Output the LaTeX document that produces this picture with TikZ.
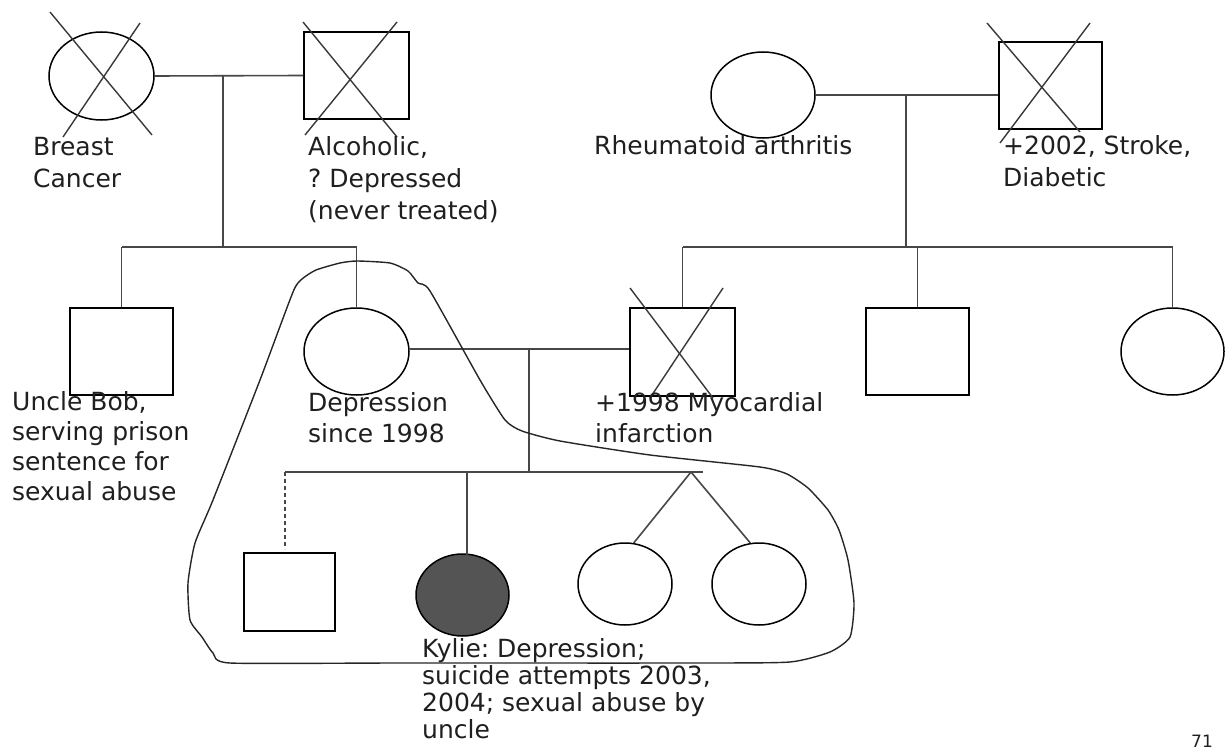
\documentclass[tikz,border=0pt]{standalone}
\usepackage{fontspec}
\setmainfont{DejaVu Sans}
\usetikzlibrary{shapes.geometric}
\frenchspacing
\begin{document}
\begin{tikzpicture}[x=1pt,y=-1pt,
  female/.style={ellipse,draw=black,line width=1.5pt,inner sep=0pt,minimum width=#1},
  male/.style={rectangle,draw=black,line width=1.5pt,inner sep=0pt},
  link/.style={draw=black!72,line width=1.6pt},
  crossout/.style={draw=black!78,line width=1.4pt},
  label/.style={anchor=base west,inner sep=0pt,align=left,text=black!88,
    font=\fontsize{25}{32}\selectfont},
  household/.style={draw=black!85,line width=1.4pt}]
\useasboundingbox (0,0) rectangle (1225,749);

% ---- paternal grandparents
\node[female=105pt,minimum height=88pt] (gmL) at (101.5,76) {};
\node[male,minimum width=105pt,minimum height=87pt] (gfL) at (356.5,75.5) {};
\draw[crossout] (50,12) -- (152,135);
\draw[crossout] (140,23) -- (63,137);
\draw[crossout] (303,22) -- (397,137);
\draw[crossout] (397,22) -- (305,135);
\coordinate (mL) at (223,76);
\coordinate (sL) at (223,247);
\draw[link] (gmL.east) -- (gfL.west);
\draw[link] (mL) -- (sL);

% ---- maternal grandparents
\node[female=104pt,minimum height=86pt] (gmR) at (763,95) {};
\node[male,minimum width=103pt,minimum height=87pt] (gfR) at (1050.5,85.5) {};
\draw[crossout] (987,23) -- (1080,132);
\draw[crossout] (1090,23) -- (1000,143);
\coordinate (mR) at (906,94);
\coordinate (sR) at (906,247);
\draw[link] (gmR.east) -- (gfR.west |- gmR.east);
\draw[link] (mR) -- (sR);

% ---- parents' generation
\node[male,minimum width=103pt,minimum height=87pt] (bob) at (121.5,351.5) {};
\node[female=105pt,minimum height=87pt] (mum) at (356.5,351.5) {};
\node[male,minimum width=105pt,minimum height=88pt] (dad) at (682.5,352) {};
\node[male,minimum width=103pt,minimum height=87pt] (unc) at (917.5,351.5) {};
\node[female=103pt,minimum height=87pt] (aunt) at (1172.5,351.5) {};
\draw[crossout] (630,288) -- (713,398);
\draw[crossout] (723,288) -- (650,398);

\draw[link] (bob.north |- sL) -- (mum.north |- sL);
\draw[link] (bob.north |- sL) -- (bob.north);
\draw[link] (mum.north |- sL) -- (mum.north);
\draw[link] (dad.north |- sR) -- (aunt.north |- sR);
\draw[link] (dad.north |- sR) -- (dad.north);
\draw[link] (unc.north |- sR) -- (unc.north);
\draw[link] (aunt.north |- sR) -- (aunt.north);

% ---- children
\coordinate (mP) at (529,349);
\coordinate (sP) at (529,472);
\coordinate (twin) at (691,472);
\coordinate (sEnd) at (703,472);
\draw[link] (mum.east |- mP) -- (dad.west |- mP);
\draw[link] (mP) -- (sP);

\node[male,minimum width=91pt,minimum height=78pt] (son) at (289.5,592) {};
\node[female=93pt,minimum height=82pt,fill=black!67] (kylie) at (462.5,595) {};
\node[female=94pt,minimum height=82pt] (tw1) at (625,584) {};
\node[female=94pt,minimum height=82pt] (tw2) at (759,584) {};
\coordinate (sonTop) at (285,549);
\coordinate (kTop) at (467,555);

\draw[link] (285,472) -- (sEnd);
\draw[link,dashed,dash pattern=on 4pt off 3pt,line width=1.1pt] (285,472) -- (sonTop);
\draw[link] (kTop |- sP) -- (kTop);
\draw[link] (twin) -- (tw1.78);
\draw[link] (twin) -- (tw2.102);

% ---- household boundary
\draw[household] plot[smooth cycle,tension=0.35] coordinates {
  (293,292) (302,279) (316,270) (340,263) (357,261) (390,263) (408,271)
  (418,283) (430,291) (480,380) (505,420) (522,431) (560,441) (650,455)
  (760,467) (787,474) (808,488) (828,510) (839,530) (848,560) (854,603)
  (850,637) (830,652) (790,662) (700,663) (400,663) (230,663) (213,653)
  (202,637) (190,620) (188,583) (195,543) (213,500) (260,380)};

% ---- annotations (anchored on the baseline of the last line)
\node[label] (tBreast) at (33,187) {Breast\\Cancer};
\node[label] (tAlc) at (308,219) {Alcoholic,\\? Depressed\\(never treated)};
\node[label] (tRA) at (594,154) {Rheumatoid arthritis};
\node[label] (tStroke) at (1003,186) {+2002, Stroke,\\Diabetic};
\node[label,font=\fontsize{25}{30}\selectfont] (tBob) at (12,500)
  {Uncle Bob,\\serving prison\\sentence for\\sexual abuse};
\node[label,font=\fontsize{25}{31}\selectfont] (tDep) at (308,442) {Depression\\since 1998};
\node[label,font=\fontsize{25}{31}\selectfont] (tMI) at (595,442) {+1998 Myocardial\\infarction};
\node[label,font=\fontsize{25}{27}\selectfont] (tKylie) at (422,738)
  {Kylie: Depression;\\suicide attempts 2003,\\2004; sexual abuse by\\uncle};
\node[label,font=\fontsize{17}{20}\selectfont] (tPage) at (1191,747) {71};
\end{tikzpicture}
\end{document}
